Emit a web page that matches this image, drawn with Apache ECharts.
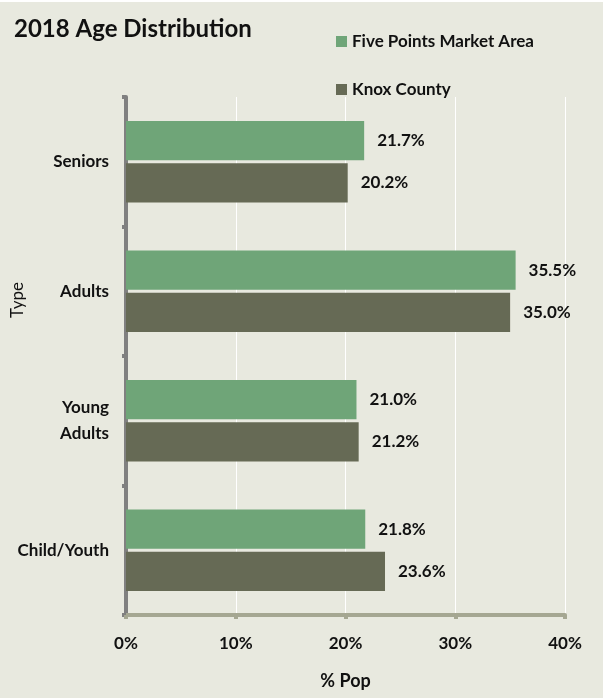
<!DOCTYPE html>
<html><head><meta charset="utf-8">
<script src="https://cdn.jsdelivr.net/npm/echarts@6/dist/echarts.min.js"></script>
<style>html,body{margin:0;padding:0;background:#fff;}#c{width:603px;height:696px;margin-top:2px;background:#E8E9DF;}</style>
</head><body><div id="c"></div>
<script>
const categories = ['Child/Youth', 'Young\nAdults', 'Adults', 'Seniors'];
const fivePoints = [21.8, 21.0, 35.5, 21.7];
const knoxCounty = [23.6, 21.2, 35.0, 20.2];
const xTicks = [0, 10, 20, 30, 40];
const FONT = 'Lato, "Open Sans", sans-serif';
const chart = echarts.init(document.getElementById('c'));
const lbl = {show:true, position:'right', distance:13, fontFamily:FONT, fontWeight:'bold', fontSize:17, color:'#111', formatter: p => p.value.toFixed(1) + '%'};
chart.setOption({
  animation:false,
  title:{text:'2018 Age Distribution', left:9, top:10, textStyle:{fontFamily:FONT, fontWeight:'bold', fontSize:24, color:'#111'}},
  legend:{orient:'vertical', left:336, top:31, padding:0, itemWidth:11, itemHeight:11, itemGap:31, icon:'rect',
    data:['Five Points Market Area','Knox County'],
    textStyle:{fontFamily:FONT, fontWeight:'bold', fontSize:17, color:'#111'}},
  grid:{left:126, right:38, top:95, bottom:83, outerBoundsMode:'none', containLabel:false},
  graphic:[{type:'text', x:9, y:298, rotation:Math.PI/2, style:{text:'Type', fontFamily:FONT, fontSize:17, fill:'#111', align:'center', verticalAlign:'top'}}],
  xAxis:{type:'value', min:0, max:40, interval:10,
    name:'% Pop', nameLocation:'middle', nameGap:57, nameTextStyle:{fontFamily:FONT, fontWeight:'bold', fontSize:18, color:'#111'},
    axisLine:{show:true, lineStyle:{color:'#A5A792', width:4}},
    axisTick:{show:true, length:4, lineStyle:{color:'#A5A792', width:4}},
    axisLabel:{margin:20, fontFamily:FONT, fontWeight:'bold', fontSize:17, color:'#111', formatter: v => v + '%'},
    splitLine:{show:true, lineStyle:{color:'#ffffff', width:1}}},
  yAxis:{type:'category', data:categories,
    axisLine:{show:true, lineStyle:{color:'#808080', width:4}},
    axisTick:{show:true, length:4, lineStyle:{color:'#808080', width:4}},
    axisLabel:{margin:17, fontFamily:FONT, fontWeight:'bold', fontSize:17, color:'#111', lineHeight:26, align:'right'}},
  series:[
    {name:'Five Points Market Area', type:'bar', data:fivePoints, itemStyle:{color:'#6FA578'}, barGap:'8%', barCategoryGap:'37%', label:lbl},
    {name:'Knox County', type:'bar', data:knoxCounty, itemStyle:{color:'#666A55'}, label:lbl}
  ]
});
</script></body></html>
